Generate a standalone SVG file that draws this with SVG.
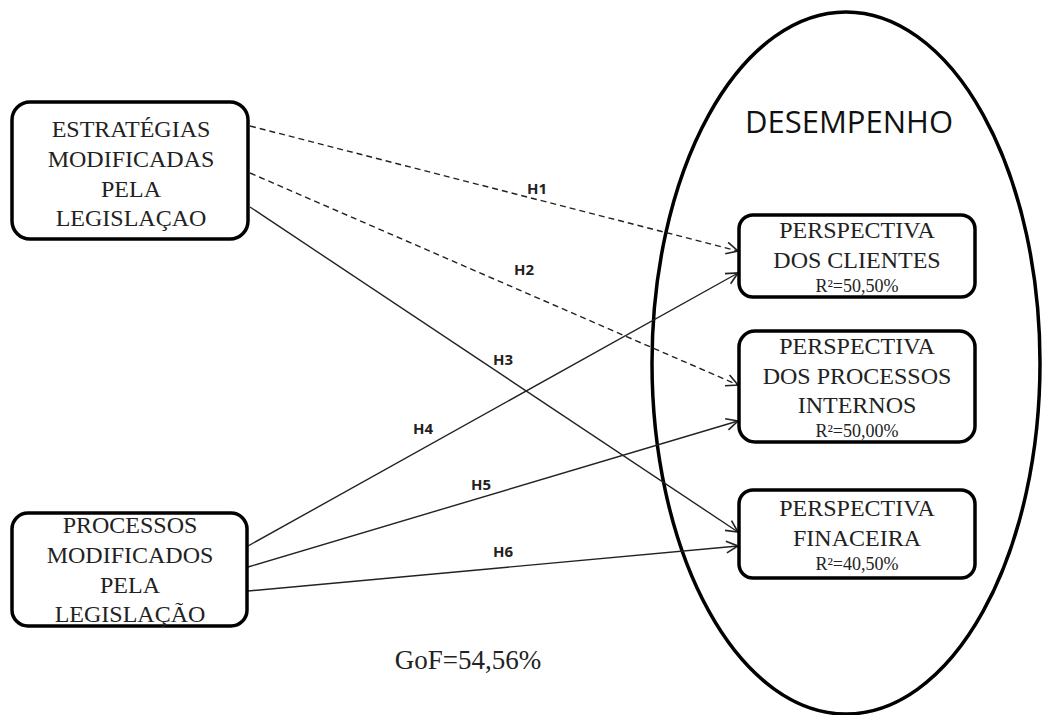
<svg xmlns="http://www.w3.org/2000/svg" width="1049" height="715" viewBox="0 0 1049 715">
<defs>
<style>
.box{fill:#fff;stroke:#000;stroke-width:3.5}
.t{font-family:"Liberation Serif",serif;font-size:24px;fill:#222;text-anchor:middle}
.r{font-family:"Liberation Serif",serif;font-size:18px;fill:#222;text-anchor:middle}
.h{font-family:"Open Sans","DejaVu Sans",sans-serif;font-size:15px;font-weight:bold;fill:#222;text-anchor:middle}
.c{fill:none;stroke:#222;stroke-width:1.4}
.d{stroke-dasharray:6,4}
</style>
<marker id="ah" viewBox="0 0 12 12" refX="11" refY="6" markerWidth="14" markerHeight="14" markerUnits="userSpaceOnUse" orient="auto">
<path d="M1,1 L11,6 L1,11" fill="none" stroke="#222" stroke-width="1.4"/>
</marker>
</defs>
<rect width="1049" height="715" fill="#fff"/>
<g id="desempenho">
<ellipse cx="846" cy="363" rx="194" ry="351" fill="#fff" stroke="#000" stroke-width="3.5"/>
<text x="849" y="133" font-family="Open Sans, DejaVu Sans, sans-serif" font-size="31" fill="#111" text-anchor="middle">DESEMPENHO</text>
</g>
<g id="connectors">
<line class="c d" x1="250" y1="126" x2="738" y2="251" marker-end="url(#ah)"/>
<line class="c d" x1="250" y1="173" x2="738" y2="385" marker-end="url(#ah)"/>
<line class="c" x1="250" y1="207" x2="738" y2="532" marker-end="url(#ah)"/>
<line class="c" x1="248" y1="546" x2="738" y2="273" marker-end="url(#ah)"/>
<line class="c" x1="248" y1="567" x2="738" y2="421" marker-end="url(#ah)"/>
<line class="c" x1="248" y1="591" x2="738" y2="546" marker-end="url(#ah)"/>
<text class="h" x="537" y="194">H1</text>
<text class="h" x="524" y="275">H2</text>
<text class="h" x="503" y="365">H3</text>
<text class="h" x="423" y="434">H4</text>
<text class="h" x="481" y="490">H5</text>
<text class="h" x="503" y="557">H6</text>
</g>
<g id="estrategias">
<rect class="box" x="12" y="102" width="236" height="137" rx="18"/>
<text class="t" x="131" y="137">ESTRATÉGIAS</text>
<text class="t" x="131" y="167">MODIFICADAS</text>
<text class="t" x="131" y="197">PELA</text>
<text class="t" x="131" y="226">LEGISLAÇAO</text>
</g>
<g id="processos">
<rect class="box" x="12" y="513" width="235" height="113" rx="16"/>
<text class="t" x="130" y="533">PROCESSOS</text>
<text class="t" x="130" y="563">MODIFICADOS</text>
<text class="t" x="130" y="593">PELA</text>
<text class="t" x="130" y="622">LEGISLAÇÃO</text>
</g>
<g id="clientes">
<rect class="box" x="739" y="215" width="236" height="82" rx="14"/>
<text class="t" x="857" y="238">PERSPECTIVA</text>
<text class="t" x="857" y="268">DOS CLIENTES</text>
<text class="r" x="857" y="292">R²=50,50%</text>
</g>
<g id="internos">
<rect class="box" x="739" y="331" width="236" height="111" rx="16"/>
<text class="t" x="857" y="354">PERSPECTIVA</text>
<text class="t" x="857" y="384">DOS PROCESSOS</text>
<text class="t" x="857" y="413">INTERNOS</text>
<text class="r" x="857" y="437">R²=50,00%</text>
</g>
<g id="financeira">
<rect class="box" x="739" y="490" width="236" height="88" rx="14"/>
<text class="t" x="857" y="516">PERSPECTIVA</text>
<text class="t" x="857" y="546">FINACEIRA</text>
<text class="r" x="857" y="570">R²=40,50%</text>
</g>
<text x="468" y="669" font-family="Liberation Serif, serif" font-size="27" fill="#222" text-anchor="middle">GoF=54,56%</text>
</svg>
